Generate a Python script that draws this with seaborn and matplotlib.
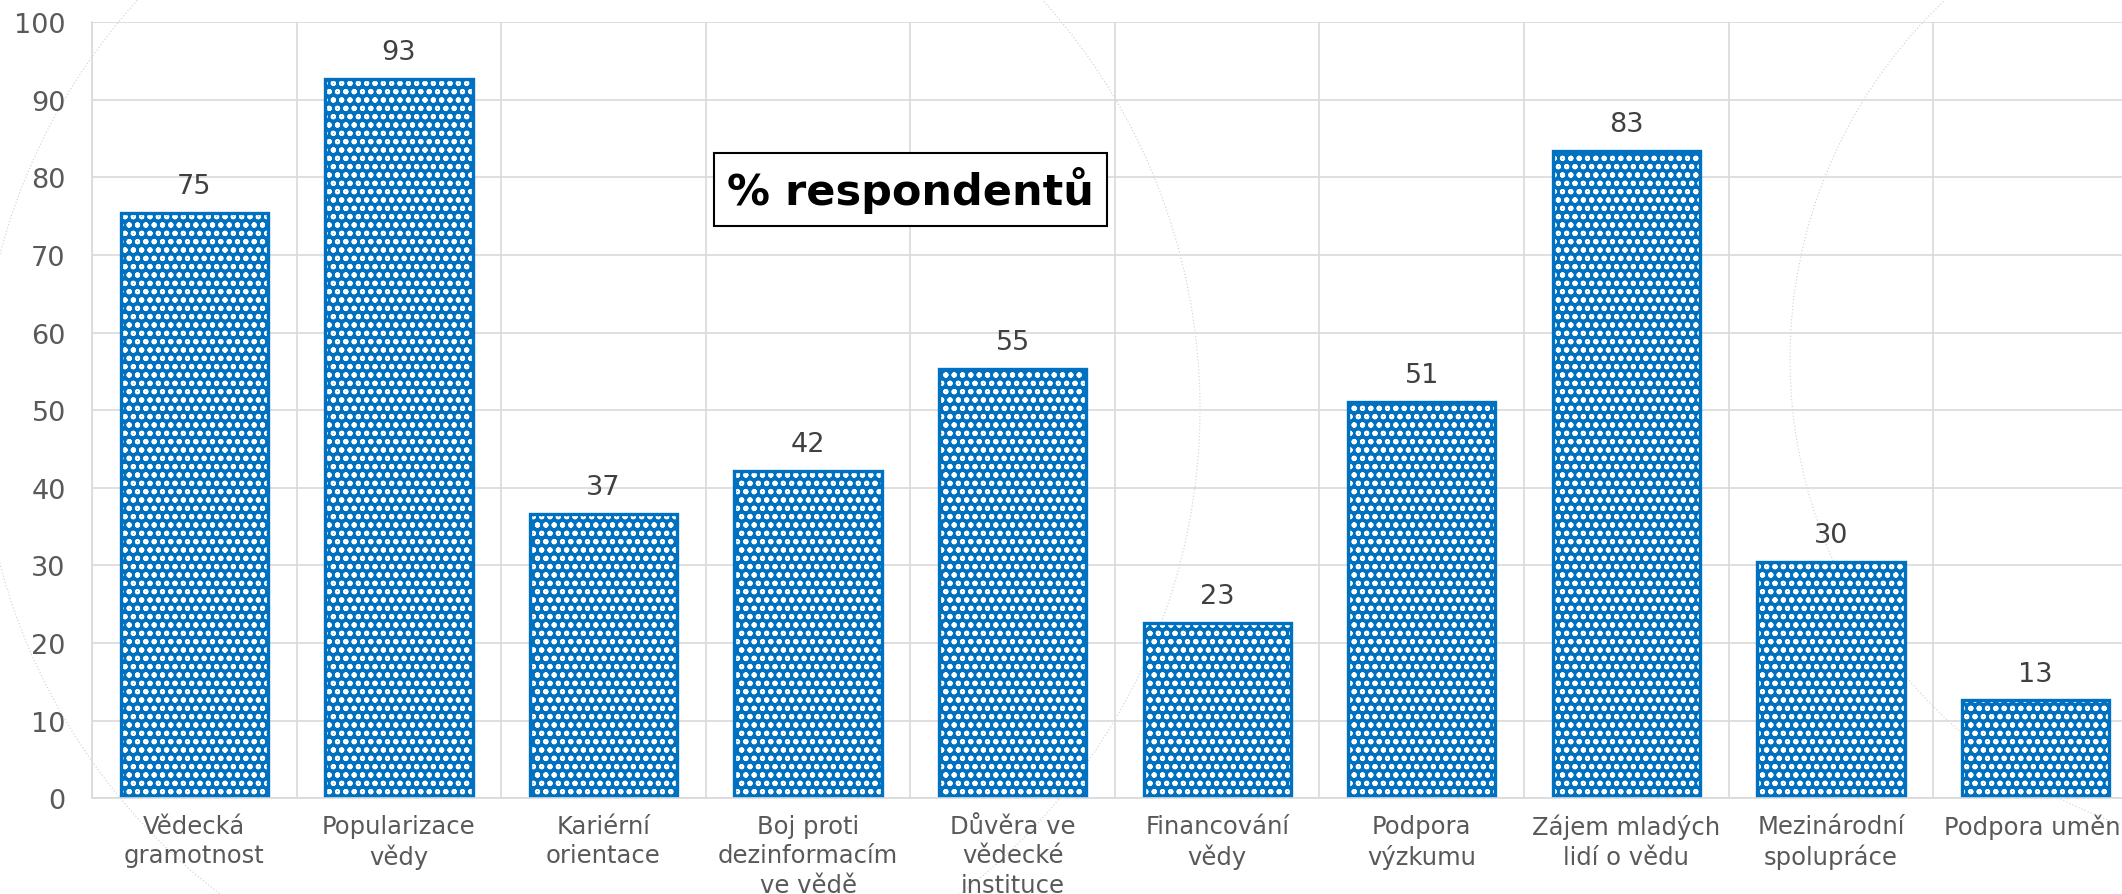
import matplotlib
matplotlib.use("Agg")
import matplotlib.pyplot as plt
from matplotlib.patches import Circle
from matplotlib.transforms import IdentityTransform
import seaborn as sns

# data
categories = [
    "Vědecká\ngramotnost",
    "Popularizace\nvědy",
    "Kariérní\norientace",
    "Boj proti\ndezinformacím\nve vědě",
    "Důvěra ve\nvědecké\ninstituce",
    "Financování\nvědy",
    "Podpora\nvýzkumu",
    "Zájem mladých\nlidí o vědu",
    "Mezinárodní\nspolupráce",
    "Podpora umění",
]
values = [75.4, 92.7, 36.6, 42.2, 55.3, 22.6, 51.1, 83.4, 30.4, 12.6]
y_ticks = list(range(0, 101, 10))

blue = "#0070C0"
grid_gray = "#D9D9D9"
text_gray = "#595959"

sns.set_style("white")
plt.rcParams["font.family"] = ["DejaVu Sans"]
plt.rcParams["hatch.linewidth"] = 1.4

fig = plt.figure(figsize=(21.22, 8.95), dpi=100)

# faint dotted decorative circles in the background (figure pixels)
for (cx, cy, r) in [(590, 895 - 410, 610), (2283, 895 - 360, 493)]:
    fig.patches.append(Circle((cx, cy), r, transform=IdentityTransform(), fill=False,
                              edgecolor="#CFCFCF", linewidth=0.8, linestyle=(0, (1, 2)),
                              zorder=-1))

ax = fig.add_axes([0.0434, 0.107, 0.964, 0.867])
ax.patch.set_alpha(0)

# patterned fill: blue face with white hatch
sns.barplot(x=categories, y=values, color=blue, width=0.72, saturation=1,
            edgecolor="white", linewidth=0, hatch="oo", ax=ax)
bars = ax.containers[0]
# solid blue outline on top
sns.barplot(x=categories, y=values, color=blue, width=0.72, saturation=1,
            fill=False, linewidth=2.4, ax=ax)

ax.bar_label(bars, fmt="%.0f", padding=10, fontsize=19.5, color="#404040")

ax.set_xlim(-0.5, len(categories) - 0.5)
ax.set_ylim(0, 100)
ax.set_yticks(y_ticks)
ax.set_xlabel("")
ax.set_ylabel("")

# gridlines: horizontal at y ticks, vertical between categories
ax.set_xticks([i + 0.5 for i in range(-1, len(categories))], minor=True)
ax.grid(True, axis="y", color=grid_gray, linewidth=1.2)
ax.grid(True, axis="x", which="minor", color=grid_gray, linewidth=1.2)
ax.set_axisbelow(True)
for s in ["top", "right"]:
    ax.spines[s].set_visible(False)
for s in ["left", "bottom"]:
    ax.spines[s].set_color(grid_gray)
    ax.spines[s].set_linewidth(1.2)

ax.tick_params(axis="y", length=0, pad=19, labelsize=19.5, labelcolor=text_gray)
ax.tick_params(axis="x", which="both", length=0, pad=11, labelsize=17.5, labelcolor=text_gray)
for lbl in ax.get_xticklabels():
    lbl.set_linespacing(1.3)

ax.text(3.5, 78.5, "% respondentů", fontsize=31, fontweight="bold", color="black",
        ha="center", va="center",
        bbox=dict(boxstyle="square,pad=0.3", facecolor="white", edgecolor="black", linewidth=1.5))

fig.savefig("out.png", dpi=100)
